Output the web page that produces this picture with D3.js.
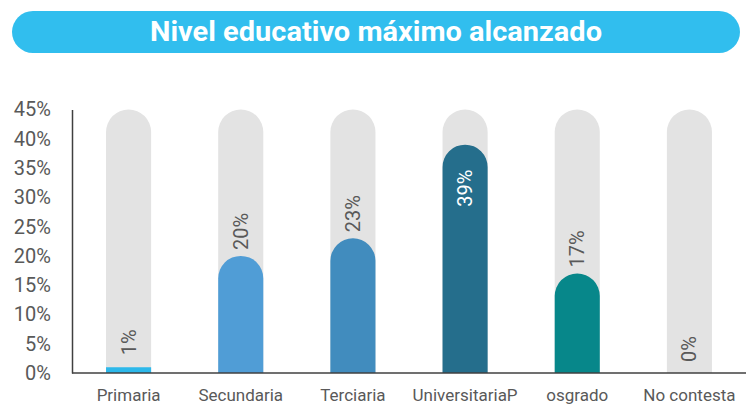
<!DOCTYPE html>
<html><head><meta charset="utf-8">
<script src="https://cdn.jsdelivr.net/npm/d3@7/dist/d3.min.js"></script>
<style>body{margin:0;background:#fff}svg{display:block}</style>
</head><body><svg id="c" width="746" height="406"></svg>
<script>
const title = "Nivel educativo máximo alcanzado";
const categories = ["Primaria","Secundaria","Terciaria","UniversitariaP","osgrado","No contesta"];
const values = [0.01,0.20,0.23,0.39,0.17,0.00];
const colors = ["#2DB8EA","#509DD6","#418CBE","#256E8C","#07878A","#E3E3E3"];
const yTicks = [0,0.05,0.10,0.15,0.20,0.25,0.30,0.35,0.40,0.45];
const labelInside = [false,false,false,true,false,false];

const svg = d3.select("#c");
const font = "Roboto, 'Noto Sans', sans-serif";

// title pill
svg.append("rect").attr("x",12).attr("y",11).attr("width",728).attr("height",42)
  .attr("rx",21).attr("fill","#31BEEE");
svg.append("text").attr("x",376).attr("y",41).attr("text-anchor","middle")
  .attr("fill","#fff").attr("font-family",font).attr("font-weight","bold")
  .attr("font-size",28.5).attr("textLength",452).attr("lengthAdjust","spacingAndGlyphs").text(title);

const x = d3.scaleBand().domain(categories).range([72.5,745.5]).paddingInner(0.598).paddingOuter(0.299);
const y = d3.scaleLinear().domain([0,0.45]).range([373,109.5]);
const bw = x.bandwidth();

function pill(x0, yTop, w, yBot){
  const h = yBot - yTop;
  const r = w/2;
  if (h < r) return `M${x0},${yBot}V${yTop}H${x0+w}V${yBot}Z`;
  return `M${x0},${yBot}V${yTop+r}A${r},${r} 0 0 1 ${x0+w},${yTop+r}V${yBot}Z`;
}

const g = svg.append("g");
// background tracks
g.selectAll(".bg").data(categories).join("path")
  .attr("d", c => pill(x(c), y(0.45), bw, y(0)))
  .attr("fill","#E3E3E3");
// value bars
g.selectAll(".bar").data(categories).join("path")
  .attr("d", (c,i) => values[i] > 0 ? pill(x(c), y(values[i]), bw, y(0)) : "")
  .attr("fill",(c,i)=>colors[i]);

// labels
g.selectAll(".lbl").data(categories).join("text")
  .attr("transform",(c,i)=>{
    const cx = x(c)+bw/2;
    let yy = labelInside[i] ? y(values[i]) + 62 : Math.min(y(values[i]) - 6, y(0) - 11);
    if (i === 0) yy = y(values[i]) - 12;
    return `translate(${cx+7},${yy}) rotate(-90)`;
  })
  .attr("font-family",font).attr("font-size",20)
  .attr("fill",(c,i)=>labelInside[i] ? "#fff" : "#595959")
  .text((c,i)=>d3.format(".0%")(values[i]));

// axes
const ya = svg.append("g").attr("transform","translate(72,0)")
  .call(d3.axisLeft(y).tickValues(yTicks).tickFormat(d3.format(".0%")).tickSize(0).tickPadding(21));
ya.select(".domain").attr("stroke","#404040").attr("stroke-width",1.5);
ya.selectAll("text").attr("font-family",font).attr("font-size",20).attr("fill","#595959");

const xa = svg.append("g").attr("transform","translate(0,373)")
  .call(d3.axisBottom(x).tickSize(0).tickPadding(16));
xa.select(".domain").attr("d","M72,0H746").attr("stroke","#404040").attr("stroke-width",1.5);
xa.selectAll("text").attr("font-family",font).attr("font-size",17).attr("fill","#595959");
</script></body></html>
